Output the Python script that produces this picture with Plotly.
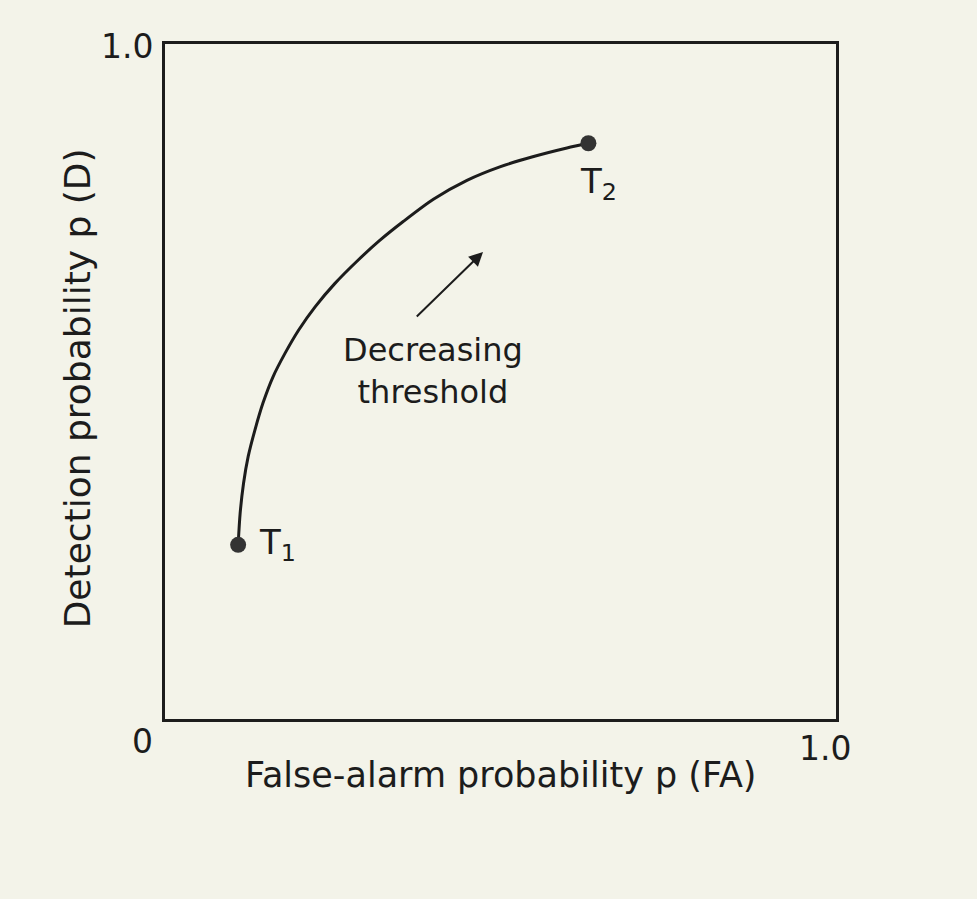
import plotly.graph_objects as go

# ROC curve (false-alarm p(FA), detection p(D))
p_fa = [0.109, 0.112, 0.117, 0.124, 0.134, 0.146, 0.161, 0.179, 0.199, 0.224, 0.253,
        0.288, 0.320, 0.355, 0.400, 0.450, 0.499, 0.548, 0.599, 0.631]
p_d = [0.258, 0.305, 0.349, 0.389, 0.428, 0.468, 0.507, 0.542, 0.576, 0.611, 0.645,
       0.680, 0.709, 0.737, 0.770, 0.798, 0.818, 0.833, 0.846, 0.853]

# end points of the threshold sweep
end_x = [0.109, 0.631]
end_y = [0.258, 0.853]
end_labels = ["T<sub>1</sub>", "T<sub>2</sub>"]

paper = "#F3F3E9"
ink = "#1c1c1c"
font = "DejaVu Sans"

fig = go.Figure()

fig.add_trace(go.Scatter(
    x=p_fa, y=p_d, mode="lines",
    line=dict(color=ink, width=3, shape="spline", smoothing=0.8),
    hoverinfo="skip", showlegend=False
))

fig.add_trace(go.Scatter(
    x=end_x, y=end_y, mode="markers",
    marker=dict(size=16, color="#333333"),
    hoverinfo="skip", showlegend=False
))

# T1 / T2 labels
fig.add_annotation(x=end_x[0], y=end_y[0], text=end_labels[0], showarrow=False,
                   xanchor="left", yanchor="middle", xshift=19, yshift=0,
                   font=dict(family=font, size=34, color=ink))
fig.add_annotation(x=end_x[1], y=end_y[1], text=end_labels[1], showarrow=False,
                   xanchor="left", yanchor="top", xshift=-10, yshift=-16,
                   font=dict(family=font, size=34, color=ink))

# arrow + note
fig.add_annotation(x=0.474, y=0.692, ax=0.373, ay=0.594, axref="x", ayref="y",
                   xref="x", yref="y", text="", showarrow=True,
                   arrowhead=2, arrowsize=1.4, arrowwidth=2, arrowcolor=ink)
fig.add_annotation(x=0.40, y=0.515, text="Decreasing<br>threshold", showarrow=False,
                   xanchor="center", yanchor="middle",
                   font=dict(family=font, size=32, color=ink))

# corner tick labels
tick_font = dict(family=font, size=33, color=ink)
for tx, ty, tt in [(-0.057, 0.997, "1.0"), (-0.033, -0.033, "0"), (0.984, -0.044, "1.0")]:
    fig.add_annotation(x=tx, y=ty, xref="paper", yref="paper", text=tt,
                       xanchor="center", yanchor="middle",
                       showarrow=False, font=tick_font)

# axis titles
fig.add_annotation(x=0.5, y=-0.083, xref="paper", yref="paper",
                   text="False-alarm probability p (FA)", showarrow=False,
                   xanchor="center", yanchor="middle",
                   font=dict(family=font, size=35, color=ink))
fig.add_annotation(x=-0.131, y=0.49, xref="paper", yref="paper",
                   text="Detection probability p (D)", showarrow=False, textangle=-90,
                   xanchor="center", yanchor="middle",
                   font=dict(family=font, size=36, color=ink))

axis = dict(range=[0, 1], showgrid=False, zeroline=False, showticklabels=False,
            ticks="", showline=True, linecolor=ink, linewidth=3, mirror=True)

fig.update_layout(
    width=977, height=899,
    paper_bgcolor=paper, plot_bgcolor=paper,
    margin=dict(l=165, r=141, t=44, b=180),
    xaxis=axis, yaxis=axis,
    showlegend=False
)

fig.write_html("out.html", config={"displayModeBar": False},
               post_script="document.body.style.margin='0';document.body.style.background='%s';" % paper)
